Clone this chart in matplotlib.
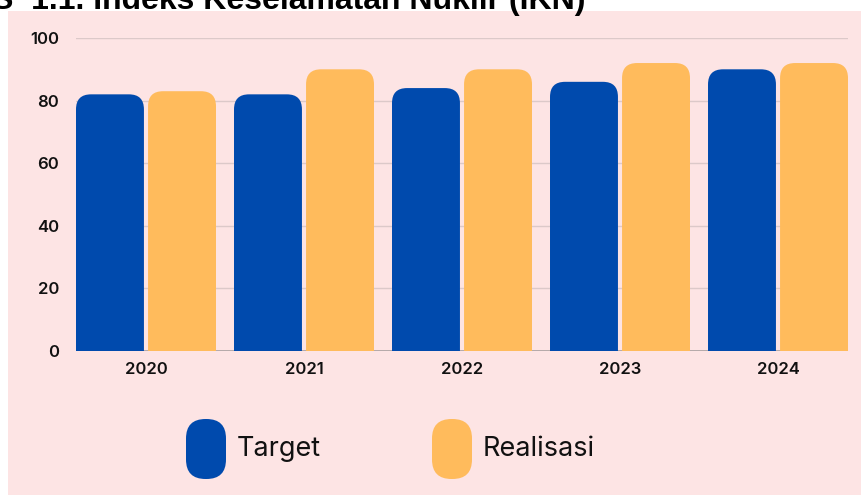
import matplotlib
matplotlib.use("Agg")
import matplotlib.pyplot as plt
from matplotlib.patches import FancyBboxPatch, Rectangle
import numpy as np

years = ["2020", "2021", "2022", "2023", "2024"]
target = [82, 82, 84, 86, 90]
realisasi = [83, 90, 90, 92, 92]
yticks = [0, 20, 40, 60, 80, 100]
title = "S  1.1. Indeks Keselamatan Nuklir (IKN)"
series_names = ["Target", "Realisasi"]

BLUE = "#004AAD"
ORANGE = "#FFBB5C"
PINK = "#FDE4E4"
GRID = "#DCC9C9"

W, H = 861, 495
fig = plt.figure(figsize=(W / 100, H / 100), dpi=100, facecolor="white")

# pink panel
fig.add_artist(Rectangle((8 / W, 0), 1 - 8 / W, 1 - 11 / H, transform=fig.transFigure,
                         facecolor=PINK, edgecolor="none", zorder=0))

# axes placement in pixels
left, right, top, bottom = 76, 848, 38, 351
ax = fig.add_axes([left / W, 1 - bottom / H, (right - left) / W, (bottom - top) / H])
ax.set_facecolor("none")

x = np.arange(len(years))
bw = 0.43
off = 0.228
ax.set_xlim(-0.443, len(years) - 1 + 0.443)
ax.set_ylim(0, 100)

ax.set_yticks(yticks)
ax.set_xticks(x)
ax.set_xticklabels(years)
for s in ax.spines.values():
    s.set_visible(False)
ax.tick_params(length=0)
ax.tick_params(axis="y", pad=12)
ax.tick_params(axis="x", pad=8)
for lab in ax.get_xticklabels() + ax.get_yticklabels():
    lab.set_fontfamily("Inter")
    lab.set_fontweight("semibold")
    lab.set_fontsize(12)
    lab.set_color("#111111")

for yv in yticks[1:]:
    ax.axhline(yv, color=GRID, lw=1.0, zorder=1)
ax.axhline(0, color="#A89F9F", lw=1.2, zorder=1)

# rounded-top bars
px_per_x = (right - left) / (ax.get_xlim()[1] - ax.get_xlim()[0])
px_per_y = (bottom - top) / 100.0
r_px = 15
r_x = r_px / px_per_x
aspect = (r_px / px_per_y) / r_x

def rbar(xc, h, color):
    ext = r_px / px_per_y
    p = FancyBboxPatch((xc - bw / 2, -ext), bw, h + ext,
                       boxstyle=f"round,pad=0,rounding_size={r_x}",
                       mutation_aspect=aspect, facecolor=color, edgecolor="none",
                       zorder=2, clip_on=True)
    ax.add_patch(p)
    p.set_clip_box(ax.bbox)

for i in range(len(years)):
    rbar(x[i] - off, target[i], BLUE)
    rbar(x[i] + off, realisasi[i], ORANGE)

# legend (pill markers)
def pill(x0, color):
    y0, w, h = 419, 40, 60
    axl = fig.add_axes([x0 / W, 1 - (y0 + h) / H, w / W, h / H])
    axl.set_xlim(0, w); axl.set_ylim(0, h); axl.axis("off")
    axl.add_patch(FancyBboxPatch((0, 0), w, h, boxstyle=f"round,pad=0,rounding_size={w/2 - 0.5}",
                                 facecolor=color, edgecolor="none"))

pill(186, BLUE)
pill(432, ORANGE)
fig.text(237 / W, 1 - 449 / H, series_names[0], fontsize=19.5, family="Inter",
         va="center", ha="left", color="#111111")
fig.text(483 / W, 1 - 449 / H, series_names[1], fontsize=19.5, family="Inter",
         va="center", ha="left", color="#111111")

# cropped title
fig.text(585 / W, 1 - 9 / H, title, fontsize=23, fontweight="bold",
         family="Liberation Sans", ha="right", va="baseline", color="#000000")

fig.savefig("out.png", dpi=100, facecolor="white")
